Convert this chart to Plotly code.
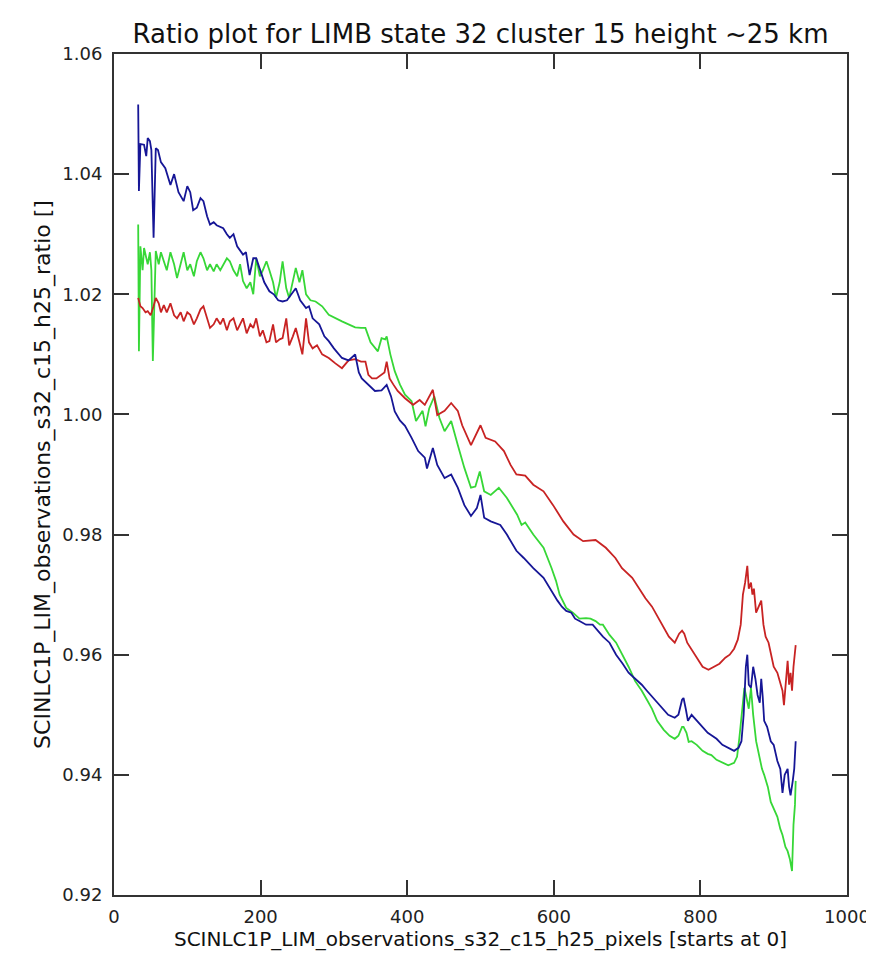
import plotly.graph_objects as go

title_text = 'Ratio plot for LIMB state 32 cluster 15 height ~25 km'
x_title = 'SCINLC1P_LIM_observations_s32_c15_h25_pixels [starts at 0]'
y_title = 'SCINLC1P_LIM_observations_s32_c15_h25_ratio []'

x_ticks = [0, 200, 400, 600, 800, 1000]
y_ticks = [0.92, 0.94, 0.96, 0.98, 1.00, 1.02, 1.04, 1.06]

# blue series
blue_x = [33, 34, 36, 41, 44, 46, 49, 51, 54, 57, 60, 64, 70, 77, 82, 88, 95, 100, 104, 108,
          113, 118, 122, 127, 131, 136, 140, 149, 154, 158, 163, 168, 176, 180, 185, 190, 194,
          199, 205, 212, 218, 224, 230, 236, 242, 248, 254, 262, 266, 271, 280, 287, 293, 300,
          311, 320, 329, 334, 338, 347, 356, 365, 372, 378, 383, 390, 397, 406, 415, 424, 427,
          435, 441, 451, 460, 469, 478, 487, 495, 500, 505, 514, 527, 536, 549, 559, 572, 586,
          592, 599, 605, 611, 617, 624, 629, 635, 644, 653, 660, 667, 676, 685, 694, 702, 711,
          720, 727, 734, 741, 748, 756, 765, 770, 775, 777, 780, 783, 788, 795, 803, 810, 815,
          822, 830, 838, 846, 852, 856, 859, 862, 864, 866, 869, 872, 875, 878, 881, 883, 885,
          887, 891, 896, 900, 905, 909, 912, 915, 919, 921, 923, 926, 928, 930]
blue_y = [1.0516, 1.0372, 1.045, 1.0449, 1.043, 1.046, 1.0455, 1.044, 1.0294, 1.0443, 1.044,
          1.042, 1.041, 1.0382, 1.040, 1.037, 1.0355, 1.038, 1.037, 1.034, 1.0344, 1.036, 1.0355,
          1.033, 1.0316, 1.032, 1.0315, 1.031, 1.030, 1.0294, 1.030, 1.028, 1.0266, 1.027, 1.0232,
          1.026, 1.026, 1.024, 1.022, 1.0205, 1.020, 1.019, 1.0188, 1.019, 1.020, 1.021, 1.019,
          1.0177, 1.018, 1.016, 1.015, 1.013, 1.0122, 1.011, 1.0094, 1.009, 1.010, 1.007, 1.006,
          1.005, 1.0039, 1.004, 1.0049, 1.003, 1.0005, 0.999, 0.9981, 0.9961, 0.9939, 0.9928,
          0.991, 0.9944, 0.9916, 0.9894, 0.990, 0.9878, 0.9849, 0.9831, 0.9844, 0.9866, 0.9828,
          0.9822, 0.9816, 0.980, 0.9773, 0.9761, 0.9744, 0.9728, 0.9716, 0.970, 0.969, 0.968,
          0.9673, 0.967, 0.966, 0.9656, 0.965, 0.965, 0.964, 0.963, 0.962, 0.960, 0.9585, 0.957,
          0.956, 0.955, 0.954, 0.953, 0.952, 0.951, 0.950, 0.9495, 0.950, 0.9525, 0.9528, 0.951,
          0.949, 0.950, 0.949, 0.948, 0.947, 0.9466, 0.946, 0.945, 0.9445, 0.944, 0.9445, 0.9456,
          0.950, 0.958, 0.960, 0.955, 0.9545, 0.958, 0.956, 0.9533, 0.952, 0.956, 0.953, 0.949,
          0.948, 0.9456, 0.945, 0.9423, 0.941, 0.937, 0.940, 0.941, 0.938, 0.9366, 0.939, 0.941,
          0.9456]

# green series
green_x = [33, 34, 36, 39, 41, 44, 46, 49, 51, 53, 55, 57, 61, 64, 68, 72, 77, 82, 86, 91, 95,
           100, 104, 109, 113, 118, 122, 127, 131, 136, 140, 145, 149, 154, 158, 163, 168, 172,
           176, 181, 186, 190, 194, 199, 203, 208, 212, 217, 221, 226, 230, 235, 239, 244, 248,
           253, 257, 262, 268, 275, 284, 293, 302, 311, 320, 329, 337, 343, 350, 356, 360, 365,
           370, 372, 377, 383, 390, 397, 406, 412, 421, 425, 430, 437, 444, 451, 460, 469, 478,
           487, 493, 499, 505, 514, 525, 536, 550, 556, 561, 572, 586, 597, 603, 608, 617, 626,
           635, 644, 650, 657, 663, 667, 676, 685, 694, 702, 711, 720, 727, 734, 741, 750, 758,
           765, 770, 775, 777, 781, 784, 788, 795, 803, 810, 815, 822, 830, 838, 846, 850, 853,
           856, 858, 860, 863, 866, 869, 872, 876, 880, 884, 887, 892, 896, 900, 905, 909, 912,
           916, 919, 922, 925, 927, 929, 930]
green_y = [1.0316, 1.0105, 1.028, 1.024, 1.0277, 1.026, 1.025, 1.027, 1.024, 1.0089, 1.020,
           1.0272, 1.025, 1.027, 1.0255, 1.024, 1.027, 1.025, 1.0227, 1.025, 1.027, 1.024, 1.025,
           1.023, 1.0255, 1.027, 1.026, 1.024, 1.025, 1.0238, 1.025, 1.024, 1.025, 1.026, 1.0255,
           1.024, 1.023, 1.025, 1.0222, 1.021, 1.022, 1.020, 1.026, 1.023, 1.024, 1.0255, 1.024,
           1.022, 1.0194, 1.022, 1.0255, 1.021, 1.0194, 1.022, 1.0244, 1.022, 1.024, 1.020, 1.019,
           1.0188, 1.018, 1.0166, 1.016, 1.0155, 1.015, 1.0145, 1.0144, 1.0144, 1.012, 1.011,
           1.0105, 1.0127, 1.0125, 1.013, 1.010, 1.0072, 1.005, 1.0033, 1.0022, 0.9989, 1.0006,
           0.998, 1.001, 1.003, 0.9994, 0.9972, 0.9989, 0.9949, 0.9911, 0.9878, 0.988, 0.9905,
           0.9872, 0.9866, 0.9878, 0.9861, 0.9833, 0.9816, 0.982, 0.980, 0.9778, 0.9744, 0.9723,
           0.970, 0.9678, 0.967, 0.966, 0.9661, 0.966, 0.9656, 0.965, 0.965, 0.9633, 0.962, 0.960,
           0.958, 0.9556, 0.954, 0.9525, 0.951, 0.949, 0.9475, 0.9465, 0.946, 0.9465, 0.948,
           0.948, 0.947, 0.9455, 0.9456, 0.945, 0.944, 0.9435, 0.9433, 0.9425, 0.942, 0.9416,
           0.942, 0.943, 0.946, 0.949, 0.952, 0.9545, 0.953, 0.951, 0.9545, 0.950, 0.9456, 0.943,
           0.941, 0.940, 0.938, 0.9355, 0.9345, 0.933, 0.931, 0.930, 0.928, 0.9273, 0.926, 0.924,
           0.9317, 0.935, 0.939]

# red series
red_x = [33, 36, 39, 43, 46, 50, 54, 57, 61, 64, 68, 72, 77, 82, 86, 91, 95, 100, 104, 109, 113,
         118, 122, 127, 131, 136, 140, 145, 149, 154, 158, 163, 168, 172, 176, 181, 186, 190, 194,
         199, 203, 208, 212, 217, 221, 226, 230, 235, 239, 244, 248, 253, 257, 262, 266, 271, 277,
         284, 293, 302, 311, 320, 329, 337, 343, 347, 352, 358, 365, 369, 372, 376, 381, 387, 397,
         408, 417, 424, 435, 441, 451, 460, 469, 475, 487, 500, 507, 520, 532, 541, 549, 561, 572,
         586, 599, 613, 627, 640, 657, 671, 684, 693, 707, 716, 725, 734, 743, 752, 757, 765, 771,
         775, 778, 782, 787, 795, 803, 811, 818, 826, 834, 840, 846, 851, 855, 858, 861, 864, 866,
         869, 871, 873, 876, 879, 883, 886, 889, 893, 897, 900, 905, 909, 912, 914, 917, 919, 921,
         923, 925, 927, 930]
red_y = [1.0194, 1.018, 1.0177, 1.017, 1.0172, 1.0165, 1.018, 1.0194, 1.0185, 1.017, 1.0182,
         1.017, 1.0185, 1.0165, 1.016, 1.017, 1.0155, 1.017, 1.0166, 1.015, 1.016, 1.0175, 1.018,
         1.016, 1.0144, 1.015, 1.016, 1.015, 1.016, 1.014, 1.0155, 1.016, 1.014, 1.015, 1.016,
         1.0135, 1.015, 1.0144, 1.016, 1.013, 1.014, 1.012, 1.0122, 1.015, 1.012, 1.0125, 1.0127,
         1.016, 1.0115, 1.013, 1.0144, 1.012, 1.010, 1.016, 1.012, 1.011, 1.0115, 1.010, 1.0094,
         1.0085, 1.0077, 1.009, 1.0092, 1.0088, 1.0088, 1.0066, 1.006, 1.006, 1.0066, 1.007,
         1.0088, 1.006, 1.005, 1.0039, 1.0027, 1.0016, 1.0024, 1.0016, 1.0041, 0.9999, 1.0006,
         1.0019, 1.0006, 0.9982, 0.9949, 0.9982, 0.9961, 0.9955, 0.9939, 0.9916, 0.990, 0.9898,
         0.9883, 0.9872, 0.9849, 0.9822, 0.980, 0.9789, 0.9791, 0.9778, 0.9761, 0.9744, 0.9728,
         0.971, 0.9694, 0.968, 0.966, 0.964, 0.963, 0.962, 0.9635, 0.964, 0.9635, 0.962, 0.961,
         0.9595, 0.958, 0.9575, 0.958, 0.9585, 0.9595, 0.960, 0.961, 0.9625, 0.965, 0.970, 0.972,
         0.9748, 0.971, 0.972, 0.970, 0.971, 0.967, 0.968, 0.969, 0.965, 0.963, 0.962, 0.960,
         0.958, 0.957, 0.955, 0.954, 0.9516, 0.956, 0.959, 0.955, 0.957, 0.954, 0.958, 0.9616]

fig = go.Figure()
fig.add_trace(go.Scatter(x=green_x, y=green_y, mode='lines',
                         line=dict(color='rgb(55,215,55)', width=1.8)))
fig.add_trace(go.Scatter(x=red_x, y=red_y, mode='lines',
                         line=dict(color='rgb(200,35,35)', width=1.8)))
fig.add_trace(go.Scatter(x=blue_x, y=blue_y, mode='lines',
                         line=dict(color='rgb(22,22,150)', width=1.8)))

axis_style = dict(showgrid=False, zeroline=False, showline=True, linecolor='#333333',
                  linewidth=2, mirror='ticks', ticks='inside', ticklen=15, tickwidth=1.5,
                  tickcolor='#333333', tickfont=dict(size=18, color='#222222'))

fig.update_xaxes(range=[0, 1000], tickvals=x_ticks, ticklabelstandoff=4,
                 title=dict(text=x_title, font=dict(size=20), standoff=4), **axis_style)
fig.update_yaxes(range=[0.92, 1.06], tickvals=y_ticks, tickformat='.2f', ticklabelstandoff=6,
                 title=dict(text=y_title, font=dict(size=22), standoff=6), **axis_style)

fig.update_layout(width=874, height=954,
                  margin=dict(l=106, r=27, t=46, b=67),
                  font=dict(family='DejaVu Sans', color='#111111'),
                  title=dict(text=title_text, font=dict(size=26), xref='paper', x=0.5,
                             xanchor='center', yref='container', y=1 - 26 / 954,
                             yanchor='middle'),
                  plot_bgcolor='white', paper_bgcolor='white', showlegend=False)

fig.write_html('out.html')
